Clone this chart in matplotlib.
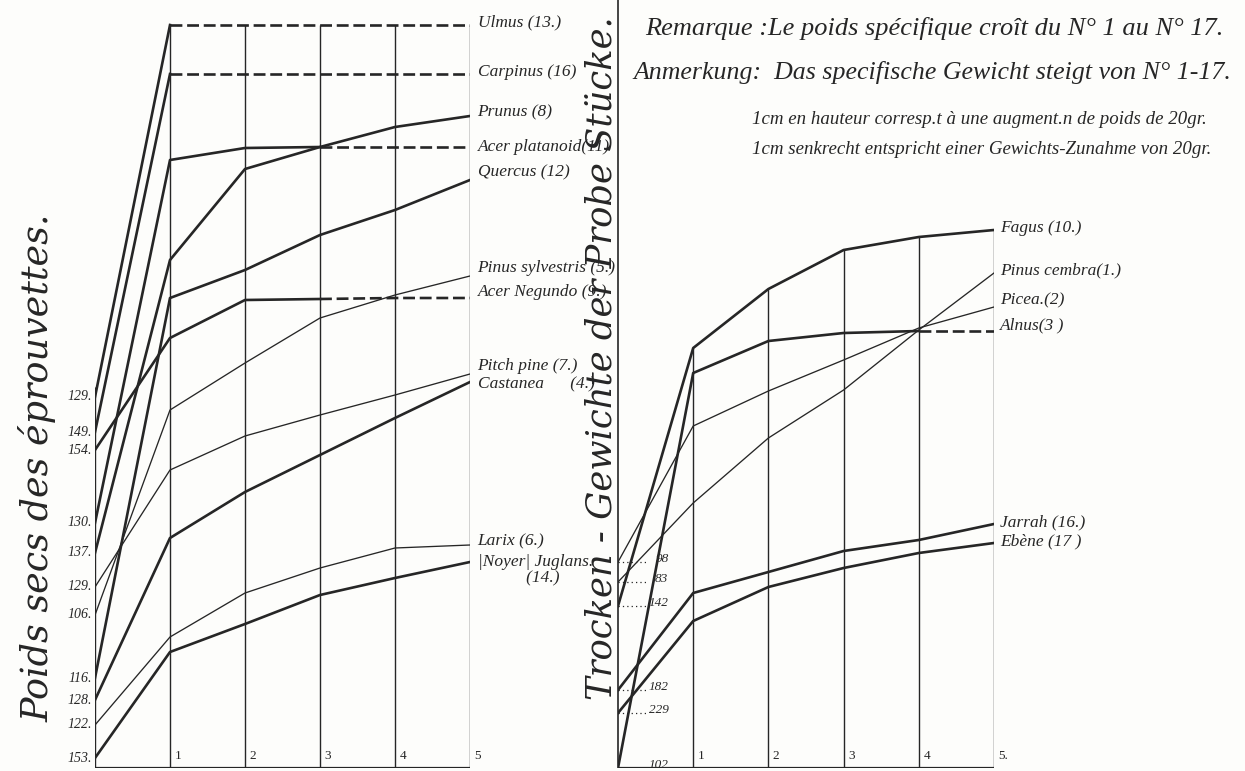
import matplotlib.pyplot as plt

# sample positions (measurement number along the x axis)
steps = [0, 1, 2, 3, 4, 5]

# heights above the base line, same unit for both panels
# left panel
ulmus = [371, 743, 743, 743, 743, 743]
carpinus = [336, 694, 694, 694, 694, 694]
acer_plat = [245, 608, 620, 621, 621, 621]
prunus = [215, 508, 599, 621, 641, 652]
quercus = [90, 470, 498, 533, 558, 588]
acer_neg = [318, 430, 468, 469, 470, 470]
pinus_sylv = [153, 358, 405, 450, 473, 492]
pitch_pine = [181, 298, 332, 353, 373, 394]
castanea = [68, 230, 276, 313, 350, 386]
larix = [43, 131, 175, 200, 220, 223]
juglans = [10, 116, 144, 173, 190, 206]

left_series = [ulmus, carpinus, acer_plat, prunus, quercus, acer_neg,
               pinus_sylv, pitch_pine, castanea, larix, juglans]
left_names = ["Ulmus (13.)", "Carpinus (16)", "Prunus (8)", "Acer platanoid(11)",
              "Quercus (12)", "Pinus sylvestris (5.)", "Acer Negundo (9.)",
              "Pitch pine (7.)", "Castanea      (4.)", "Larix (6.)",
              "|Noyer| Juglans.\n           (14.)"]
left_start = ["129.", "149.", "130.", "137.", "116.", "154.", "106.", "129.", "128.", "122.", "153."]

# right panel
fagus = [162, 420, 479, 518, 531, 538]
pinus_cembra = [186, 265, 330, 378, 438, 495]
picea = [206, 342, 377, 408, 440, 461]
alnus = [0, 395, 427, 435, 437, 437]
jarrah = [78, 175, 196, 217, 228, 244]
ebene = [55, 147, 181, 200, 215, 225]

right_series = [fagus, pinus_cembra, picea, alnus, jarrah, ebene]
right_names = ["Fagus (10.)", "Pinus cembra(1.)", "Picea.(2)", "Alnus(3 )",
               "Jarrah (16.)", "Ebène (17 )"]
right_start = ["142", "83", "98", "102", "182", "229"]

# styling
left_thick = [True, True, True, True, True, True, False, False, True, False, True]
left_dash_from = [1, 1, 3, None, None, 3, None, None, None, None, None]
left_label_h = [746, 696, 656, 621, 596, 500, 476, 402, 384, 227, 198]
right_thick = [True, False, False, True, True, True]
right_dash_from = [None, None, None, 4, None, None]
right_label_h = [540, 498, 468, 443, 246, 227]

W, H = 1245, 771
INK = "#262626"
FONT = "Liberation Serif"

fig = plt.figure(figsize=(W / 100, H / 100), dpi=100)
fig.patch.set_facecolor("#fdfdfb")


def panel(x0, x1):
    ax = fig.add_axes([x0 / W, 3 / H, (x1 - x0) / W, 768 / H])
    ax.set_xlim(0, 5)
    ax.set_ylim(0, 768)
    ax.axis("off")
    ax.patch.set_alpha(0)
    return ax


def draw_series(ax, series, thick, dash_from):
    for ys, th, df in zip(series, thick, dash_from):
        lw = 1.9 if th else 0.95
        if df is None:
            ax.plot(steps, ys, color=INK, lw=lw, solid_joinstyle="round")
        else:
            ax.plot(steps[:df + 1], ys[:df + 1], color=INK, lw=lw)
            ax.plot(steps[df:], ys[df:], color=INK, lw=lw, dashes=(4.5, 1.8))


def draw_grid(ax, series, ticks):
    tops = [max(s[i] for s in series) for i in steps]
    for i in steps[1:]:
        ax.vlines(i, 0, tops[i], color=INK, lw=1.0)
        ax.text(i + 0.06, 6, ticks[i - 1], fontsize=9.5, family=FONT, color=INK,
                ha="left", va="bottom")
    ax.hlines(0, 0, 5, color=INK, lw=1.6)


ax_l = panel(95, 470)
ax_r = panel(618, 994)

draw_grid(ax_l, left_series, ["1", "2", "3", "4", "5"])
draw_grid(ax_r, right_series, ["1", "2", "3", "4", "5."])

ax_l.vlines(0, 0, max(s[0] for s in left_series) + 10, color=INK, lw=1.0)
ax_r.vlines(0, 0, 771, color=INK, lw=1.2, clip_on=False)

draw_series(ax_l, left_series, left_thick, left_dash_from)
draw_series(ax_r, right_series, right_thick, right_dash_from)

# series names at the right end
for name, h in zip(left_names, left_label_h):
    ax_l.text(5.1, h, name, fontsize=12.5, family=FONT, style="italic", color=INK,
              ha="left", va="center", linespacing=1.05)
for name, h in zip(right_names, right_label_h):
    ax_r.text(5.08, h, name, fontsize=12.5, family=FONT, style="italic", color=INK,
              ha="left", va="center")

# start weights
for s, lab in zip(left_series, left_start):
    ax_l.text(-0.04, s[0], lab, fontsize=10, family=FONT, style="italic", color=INK,
              ha="right", va="center")
for s, lab in zip(right_series, right_start):
    if s[0] > 20:
        ax_r.hlines(s[0], 0, 0.4, color=INK, lw=0.9, linestyles=(0, (1, 2.5)))
    ax_r.text(0.67, s[0] + 3, lab, fontsize=9.5, family=FONT, style="italic", color=INK,
              ha="right", va="center")

# rotated axis captions
fig.text(38 / W, 1 - 468 / H, "Poids secs des éprouvettes.", rotation=90,
         fontsize=26.3, family="DejaVu Serif", style="italic", color=INK,
         ha="center", va="center")
fig.text(601 / W, 1 - 358 / H, "Trocken - Gewichte der Probe Stücke.", rotation=90,
         fontsize=25.5, family="DejaVu Serif", style="italic", color=INK,
         ha="center", va="center")

# notes
fig.text(645 / W, 1 - 28 / H, "Remarque :Le poids spécifique croît du N° 1 au N° 17.",
         fontsize=19, family=FONT, style="italic", color=INK, ha="left", va="center")
fig.text(633 / W, 1 - 72 / H, "Anmerkung:  Das specifische Gewicht steigt von N° 1-17.",
         fontsize=18.6, family=FONT, style="italic", color=INK, ha="left", va="center")
fig.text(752 / W, 1 - 120 / H, "1cm en hauteur corresp.t à une augment.n de poids de 20gr.",
         fontsize=13.6, family=FONT, style="italic", color=INK, ha="left", va="center")
fig.text(752 / W, 1 - 150 / H, "1cm senkrecht entspricht einer Gewichts-Zunahme von 20gr.",
         fontsize=13.6, family=FONT, style="italic", color=INK, ha="left", va="center")

fig.savefig("out.png", dpi=100, facecolor=fig.get_facecolor())
